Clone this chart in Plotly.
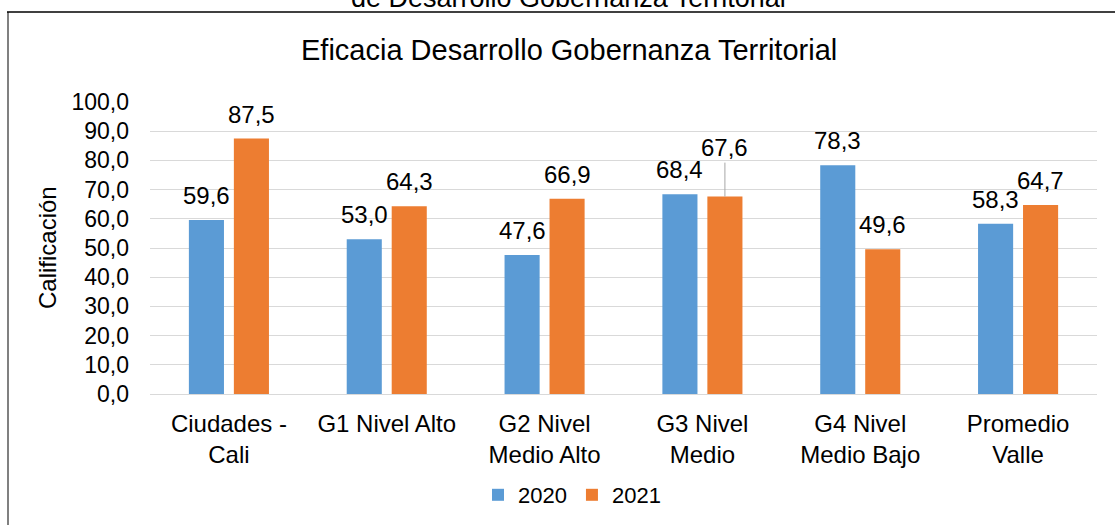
import plotly.graph_objects as go

categories = ["Ciudades -<br>Cali", "G1 Nivel Alto", "G2 Nivel<br>Medio Alto",
              "G3 Nivel<br>Medio", "G4 Nivel<br>Medio Bajo", "Promedio<br>Valle"]
values_2020 = [59.6, 53.0, 47.6, 68.4, 78.3, 58.3]
values_2021 = [87.5, 64.3, 66.9, 67.6, 49.6, 64.7]
series_names = ["2020", "2021"]
y_ticks = [0, 10, 20, 30, 40, 50, 60, 70, 80, 90, 100]

BLUE = "#5B9BD5"
ORANGE = "#ED7D31"
FONT = "Arial, Liberation Sans, sans-serif"

W, H = 1115, 525
L, R, T, B = 150, 18, 102, 131
PW, PH = W - L - R, H - T - B


def px_x(p):
    return (p - L) / PW


def px_y(p):
    return (H - B - p) / PH


fig = go.Figure()
fig.add_trace(go.Bar(x=categories, y=values_2020, name=series_names[0],
                     marker=dict(color=BLUE, line=dict(width=0))))
fig.add_trace(go.Bar(x=categories, y=values_2021, name=series_names[1],
                     marker=dict(color=ORANGE, line=dict(width=0))))

annotations = []
for series, shift in ((values_2020, -22.5), (values_2021, 22.5)):
    for cat, v in zip(categories, series):
        txt = f"{v:.1f}".replace(".", ",")
        if cat.startswith("G3") and shift > 0:
            annotations.append(dict(x=cat, y=v, xref="x", yref="y", text=txt,
                                    showarrow=True, arrowhead=0, arrowwidth=1,
                                    arrowcolor="#A6A6A6", ax=0, ay=-49,
                                    standoff=0, xshift=shift,
                                    font=dict(size=24, color="#000000", family=FONT)))
        else:
            annotations.append(dict(x=cat, y=v, xref="x", yref="y", text=txt,
                                    showarrow=False, yanchor="bottom", yshift=9,
                                    xshift=shift,
                                    font=dict(size=24, color="#000000", family=FONT)))

# main title
annotations.append(dict(x=px_x(569), y=px_y(50), xref="paper", yref="paper",
                        text="Eficacia Desarrollo Gobernanza Territorial",
                        showarrow=False, xanchor="center", yanchor="middle",
                        font=dict(size=29, color="#000000", family=FONT)))
# cropped upper title
annotations.append(dict(x=px_x(568), y=px_y(-2), xref="paper", yref="paper",
                        text="de Desarrollo Gobernanza Territorial",
                        showarrow=False, xanchor="center", yanchor="middle",
                        font=dict(size=27, color="#000000", family=FONT)))
# y-axis title
annotations.append(dict(x=px_x(47), y=px_y(248), xref="paper", yref="paper",
                        text="Calificación", textangle=-90,
                        showarrow=False, xanchor="center", yanchor="middle",
                        font=dict(size=24, color="#000000", family=FONT)))

shapes = [
    dict(type="line", xref="paper", yref="paper",
         x0=px_x(8), x1=px_x(8), y0=px_y(12), y1=px_y(540),
         line=dict(color="#808080", width=2)),
    dict(type="line", xref="paper", yref="paper",
         x0=px_x(7), x1=px_x(1130), y0=px_y(12), y1=px_y(12),
         line=dict(color="#000000", width=1.5)),
]

fig.update_layout(
    width=W, height=H,
    margin=dict(l=L, r=R, t=T, b=B, autoexpand=False),
    paper_bgcolor="white", plot_bgcolor="white",
    font=dict(family=FONT, size=22, color="#000000"),
    barmode="group", bargap=0.43, bargroupgap=0.22,
    separators=",.",
    showlegend=True,
    legend=dict(orientation="h", x=px_x(572), y=px_y(495), xanchor="center",
                yanchor="middle", font=dict(size=22, color="#000000", family=FONT),
                itemwidth=30, tracegroupgap=0, bgcolor="rgba(0,0,0,0)"),
    annotations=annotations,
    shapes=shapes,
)
fig.update_xaxes(showgrid=False, showline=True, linecolor="#D9D9D9", linewidth=1,
                 ticks="", ticklabelstandoff=8,
                 tickfont=dict(size=24, color="#000000", family=FONT),
                 automargin=False)
fig.update_yaxes(range=[0, 100], tickvals=y_ticks, tickformat=".1f",
                 showgrid=True, gridcolor="#D9D9D9", gridwidth=1,
                 zeroline=True, zerolinecolor="#D9D9D9", zerolinewidth=1,
                 showline=False, ticks="", ticklen=0, ticklabelstandoff=20,
                 tickfont=dict(size=23, color="#000000", family=FONT),
                 automargin=False)

fig.write_html("out.html", config={"displayModeBar": False},
               post_script="document.body.style.margin='0';document.body.style.padding='0';")
